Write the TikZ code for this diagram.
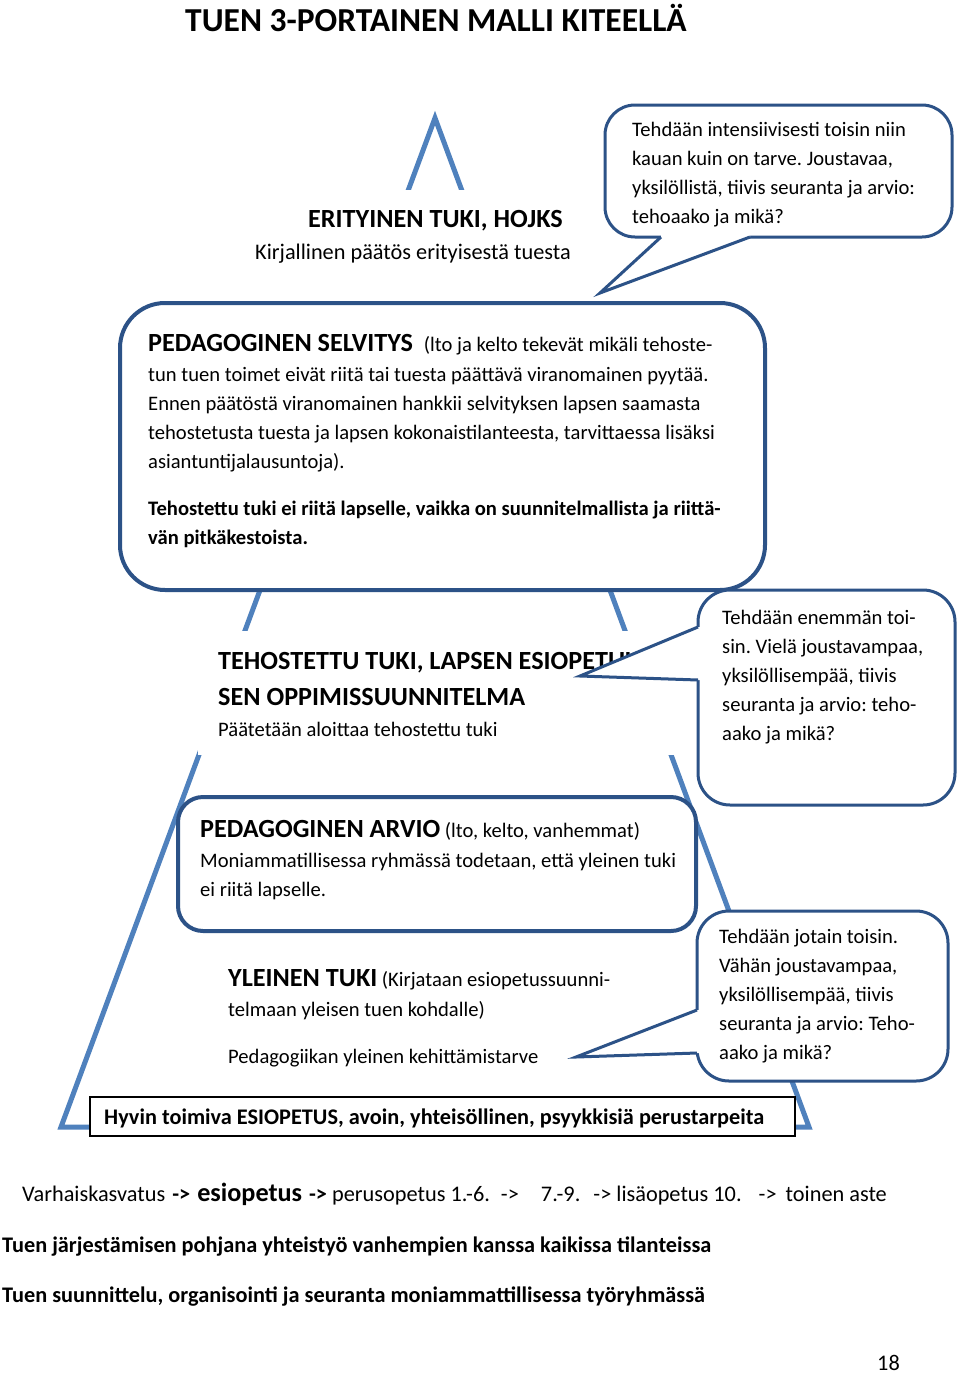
\documentclass[tikz,border=0pt]{standalone}
\usepackage{fontspec}
\setmainfont{Carlito}
\usepackage{tikz}
\definecolor{pyrblue}{HTML}{4F81BD}
\definecolor{navy}{HTML}{2C5287}
\newcommand{\bodyfont}{\fontsize{20.6}{29}\selectfont}
\newcommand{\bigfont}{\fontsize{22.3}{30}\selectfont}
\newcommand{\headfont}{\fontsize{26.2}{30}\selectfont\bfseries}
\frenchspacing

\begin{document}
\begin{tikzpicture}[x=1pt, y=-1pt,
    pyr/.style={draw=pyrblue, line width=5pt},
    bubble/.style={draw=navy, line width=3pt, fill=white, rounded corners=#1},
    pointer/.style={draw=navy, line width=3pt, line join=miter},
    cover/.style={fill=white},
    txt/.style={anchor=base west, inner sep=0pt, font=\bodyfont},
    boldtxt/.style={txt, font=\bodyfont\bfseries},
    bigtxt/.style={txt, font=\bigfont}]

    \fill[white] (0,0) rectangle (960,1373);
    \useasboundingbox (0,0) rectangle (960,1373);

    % title
    \node[txt, font=\fontsize{33.5}{40}\selectfont\bfseries] (title) at (185,31) {TUEN 3-PORTAINEN MALLI KITEELLÄ};

    % pyramid
    \coordinate (apex) at (435,118);
    \coordinate (baseL) at (61,1127);
    \coordinate (baseR) at (809,1127);
    \draw[pyr] (apex) -- (baseL) -- (baseR) -- cycle;

    % erityinen tuki
    \fill[cover] (250,190) rectangle (600,302);
    \node[txt, font=\headfont] (erit) at (308,227) {ERITYINEN TUKI, HOJKS};
    \node[bigtxt] (eritsub) at (255,259) {Kirjallinen päätös erityisestä tuesta};

    % top callout
    \draw[bubble=30] (605,105) rectangle (952,237);
    \fill[white] (661,237) -- (600,293) -- (750,237) -- (750,233) -- (661,233) -- cycle;
    \draw[pointer] (661,237) -- (600,293) -- (750,237);
    \foreach \t [count=\i from 0] in {{Tehdään intensiivisesti toisin niin}, {kauan kuin on tarve. Joustavaa,}, {yksilöllistä, tiivis seuranta ja arvio:}, {tehoaako ja mikä?}}
        \node[txt] (ca\i) at (632,136+29*\i) {\t};

    % pedagoginen selvitys
    \draw[bubble=45, line width=4pt] (120,303) rectangle (765,590);
    \node[txt] (selv0) at (148,351) {{\headfont PEDAGOGINEN SELVITYS}\hspace{11pt}(lto ja kelto tekevät mikäli tehoste-};
    \foreach \t [count=\i] in {{tun tuen toimet eivät riitä tai tuesta päättävä viranomainen pyytää.}, {Ennen päätöstä viranomainen hankkii selvityksen lapsen saamasta}, {tehostetusta tuesta ja lapsen kokonaistilanteesta, tarvittaessa lisäksi}, {asiantuntijalausuntoja).}}
        \node[txt] (selv\i) at (148,352+29*\i) {\t};
    \node[boldtxt] (selv5) at (148,515) {Tehostettu tuki ei riitä lapselle, vaikka on suunnitelmallista ja riittä-};
    \node[boldtxt] (selv6) at (148,544) {vän pitkäkestoista.};

    % tehostettu tuki
    \fill[cover] (198,631) rectangle (690,755);
    \node[txt, font=\headfont] (teh1) at (218,669) {TEHOSTETTU TUKI, LAPSEN ESIOPETUK-};
    \node[txt, font=\headfont] (teh2) at (218,705) {SEN OPPIMISSUUNNITELMA};
    \node[txt] (teh3) at (218,736) {Päätetään aloittaa tehostettu tuki};

    % middle callout
    \draw[bubble=32] (698,590) rectangle (955,805);
    \fill[white] (698,627) -- (580,676) -- (698,680) -- (702,680) -- (702,627) -- cycle;
    \draw[pointer] (698,627) -- (580,676) -- (698,680);
    \foreach \t [count=\i from 0] in {{Tehdään enemmän toi-}, {sin. Vielä joustavampaa,}, {yksilöllisempää, tiivis}, {seuranta ja arvio: teho-}, {aako ja mikä?}}
        \node[txt] (cb\i) at (722,624+29*\i) {\t};

    % pedagoginen arvio
    \draw[bubble=25, line width=4pt] (178,797) rectangle (696,931);
    \node[txt] (arv0) at (200,837) {{\headfont PEDAGOGINEN ARVIO} (lto, kelto, vanhemmat)};
    \node[txt] (arv1) at (200,867) {Moniammatillisessa ryhmässä todetaan, että yleinen tuki};
    \node[txt] (arv2) at (200,896) {ei riitä lapselle.};

    % yleinen tuki
    \node[txt] (yl0) at (228,986) {{\headfont YLEINEN TUKI} (Kirjataan esiopetussuunni-};
    \node[txt] (yl1) at (228,1016) {telmaan yleisen tuen kohdalle)};
    \node[txt] (yl2) at (228,1063) {Pedagogiikan yleinen kehittämistarve};

    % bottom callout
    \draw[bubble=32] (697,911) rectangle (948,1081);
    \fill[white] (697,1010) -- (576,1057) -- (697,1053) -- (701,1053) -- (701,1010) -- cycle;
    \draw[pointer] (697,1010) -- (576,1057) -- (697,1053);
    \foreach \t [count=\i from 0] in {{Tehdään jotain toisin.}, {Vähän joustavampaa,}, {yksilöllisempää, tiivis}, {seuranta ja arvio: Teho-}, {aako ja mikä?}}
        \node[txt] (cc\i) at (719,943+29*\i) {\t};

    % base of the pyramid
    \draw[line width=1.5pt, fill=white] (90,1097) rectangle (795,1136);
    \node[bigtxt, font=\bigfont\bfseries] (bar) at (104,1124) {Hyvin toimiva ESIOPETUS, avoin, yhteisöllinen, psyykkisiä perustarpeita};

    % notes below
    \node[bigtxt] (path) at (22,1201) {Varhaiskasvatus\hspace{2pt} \textbf{->}\hspace{2pt} {\headfont esiopetus}\hspace{2pt} \textbf{->} perusopetus 1.-6.\hspace{6pt} ->\hspace{17pt} 7.-9.\hspace{8pt} -> lisäopetus 10.\hspace{12pt} ->\hspace{4pt} toinen aste};
    \node[bigtxt, font=\bigfont\bfseries] (coop) at (2,1252) {Tuen järjestämisen pohjana yhteistyö vanhempien kanssa kaikissa tilanteissa};
    \node[bigtxt, font=\bigfont\bfseries] (team) at (2,1302) {Tuen suunnittelu, organisointi ja seuranta moniammattillisessa työryhmässä};
    \node[bigtxt] (page) at (877,1370) {18};
\end{tikzpicture}
\end{document}
